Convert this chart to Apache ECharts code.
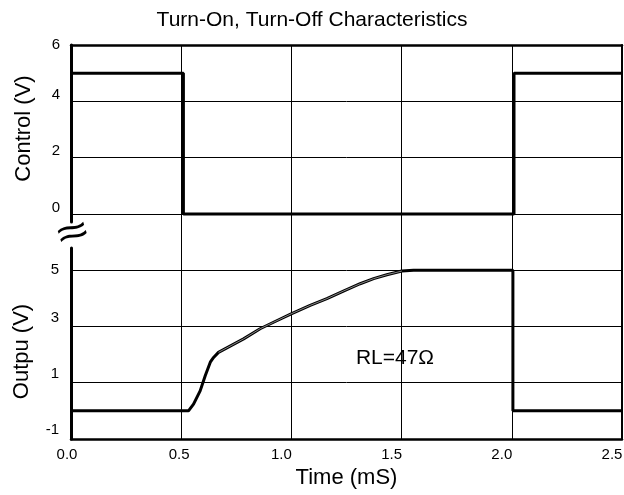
<!DOCTYPE html>
<html><head><meta charset="utf-8">
<script src="https://cdn.jsdelivr.net/npm/echarts@6/dist/echarts.min.js"></script>
<style>html,body{margin:0;padding:0;background:#fff}#c{width:624px;height:495px}</style>
</head><body><div id="c"></div>
<script>
// ---- data ----
const xTickLabels = ['0.0', '0.5', '1.0', '1.5', '2.0', '2.5'];
const controlTicks = [0, 2, 4, 6];
const outputTicks = [-1, 1, 3, 5];

const controlTime = [0, 0.51, 0.51, 2.01, 2.01, 2.5];
const controlVolt = [5, 5, 0, 0, 5, 5];

const outputTime = [0, 0.533, 0.556, 0.586, 0.609, 0.632, 0.647, 0.669, 0.707, 0.783, 0.858, 0.919, 0.999, 1.085, 1.161, 1.236, 1.312, 1.373, 1.433, 1.501, 1.554, 2.005, 2.005, 2.5];
const outputVolt = [0, 0, 0.24, 0.71, 1.25, 1.73, 1.9, 2.08, 2.24, 2.56, 2.92, 3.15, 3.45, 3.75, 3.99, 4.26, 4.52, 4.70, 4.84, 4.97, 5.0, 5.0, 0, 0];

const noisyTime = [0.669, 0.707, 0.783, 0.858, 0.919, 0.999, 1.085, 1.161, 1.236, 1.312, 1.373, 1.433, 1.501];
const noisyVolt = [2.08, 2.24, 2.56, 2.92, 3.15, 3.45, 3.75, 3.99, 4.26, 4.52, 4.70, 4.84, 4.97];

const annotation = { text: 'RL=47\u03A9', x: 1.47, y: 1.88 };

// ---- chart ----
const FONT = '"Liberation Sans", Arial, sans-serif';
const zip = (a, b) => a.map((v, i) => [v, b[i]]);
const gridMarks = (vals) => ({
  silent: true, symbol: ['none', 'none'], animation: false,
  label: { show: false },
  lineStyle: { color: '#000', width: 1, type: 'solid' },
  emphasis: { disabled: true },
  data: vals.map(v => ({ yAxis: v }))
});
const labelFmt = (topVal) => (v) => (v === topVal ? '{n|' + v + '}' : '{u|' + v + '}');
const labelRich = (pad) => ({
  n: { fontSize: 15, fontFamily: FONT, color: '#000' },
  u: { fontSize: 15, fontFamily: FONT, color: '#000', padding: [0, 0, pad, 0] }
});
const xLabelStyle = { fontSize: 15, fontFamily: FONT, color: '#000' };

const chart = echarts.init(document.getElementById('c'));
chart.setOption({
  animation: false,
  backgroundColor: '#fff',
  title: {
    text: 'Turn-On, Turn-Off Characteristics', left: 'center', top: 5,
    textStyle: { fontFamily: FONT, fontSize: 21, fontWeight: 'normal', color: '#000' }
  },
  grid: [
    { left: 71, right: 2, top: 45, bottom: 56, outerBoundsMode: 'none', containLabel: false },
    { left: 71, right: 2, top: 45, height: 177, outerBoundsMode: 'none', containLabel: false },
    { left: 71, right: 2, top: 248, bottom: 56, outerBoundsMode: 'none', containLabel: false }
  ],
  xAxis: [
    {
      gridIndex: 0, type: 'value', min: 0, max: 2.5, interval: 0.5, position: 'bottom',
      axisLine: { show: true, onZero: false, lineStyle: { color: '#000', width: 2.5 } },
      axisTick: { show: false },
      axisLabel: {
        formatter: (v) => {
          const i = Math.round(v / 0.5);
          const key = i === 0 ? 'a' : (i === 1 ? 'b' : 'c');
          return '{' + key + '|' + xTickLabels[i] + '}';
        },
        rich: {
          a: Object.assign({ padding: [0, 8, 0, 0] }, xLabelStyle),
          b: Object.assign({ padding: [0, 4, 0, 0] }, xLabelStyle),
          c: Object.assign({ padding: [0, 20, 0, 0] }, xLabelStyle)
        },
        fontSize: 15, fontFamily: FONT, color: '#000',
        margin: 8
      },
      splitLine: { show: true, showMinLine: false, lineStyle: { color: '#000', width: 1 } },
      name: 'Time (mS)', nameLocation: 'middle', nameGap: 27,
      nameTextStyle: { fontFamily: FONT, fontSize: 22, color: '#000' }
    },
    {
      gridIndex: 0, type: 'value', min: 0, max: 2.5, position: 'top',
      axisLine: { show: true, onZero: false, lineStyle: { color: '#000', width: 2.5 } },
      axisTick: { show: false }, axisLabel: { show: false }, splitLine: { show: false }
    },
    { gridIndex: 1, type: 'value', min: 0, max: 2.5, show: false },
    { gridIndex: 2, type: 'value', min: 0, max: 2.5, show: false }
  ],
  yAxis: [
    {
      gridIndex: 0, type: 'value', min: 0, max: 1, position: 'right',
      axisLine: { show: true, onZero: false, lineStyle: { color: '#000', width: 2 } },
      axisTick: { show: false }, axisLabel: { show: false }, splitLine: { show: false }
    },
    {
      gridIndex: 1, type: 'value', min: -0.28, max: 6, position: 'left',
      axisLine: { show: true, onZero: false, lineStyle: { color: '#000', width: 3 } },
      axisTick: { show: false },
      axisLabel: { customValues: controlTicks, formatter: labelFmt(6), rich: labelRich(13), fontSize: 15, fontFamily: FONT, margin: 11, color: '#000' },
      splitLine: { show: false },
      name: 'Control (V)', nameLocation: 'middle', nameGap: 36,
      nameTextStyle: { fontFamily: FONT, fontSize: 22, color: '#000', padding: [0, 0, 0, 10] }
    },
    {
      gridIndex: 2, type: 'value', min: -1, max: 5.79, position: 'left',
      axisLine: { show: true, onZero: false, lineStyle: { color: '#000', width: 3 } },
      axisTick: { show: false },
      axisLabel: { customValues: outputTicks, formatter: labelFmt(5), rich: labelRich(18), fontSize: 15, fontFamily: FONT, margin: 12, color: '#000' },
      splitLine: { show: false },
      name: 'Outpu (V)', nameLocation: 'middle', nameGap: 38,
      nameTextStyle: { fontFamily: FONT, fontSize: 22, color: '#000', padding: [0, 16, 0, 0] }
    }
  ],
  series: [
    {
      type: 'line', xAxisIndex: 2, yAxisIndex: 1, data: zip(controlTime, controlVolt),
      showSymbol: false, symbol: 'none', lineStyle: { color: '#000', width: 3 }, z: 5,
      markLine: gridMarks([0, 2, 4])
    },
    {
      type: 'line', xAxisIndex: 3, yAxisIndex: 2, data: zip(outputTime, outputVolt),
      showSymbol: false, symbol: 'none', lineStyle: { color: '#000', width: 3 }, z: 5,
      markLine: gridMarks([1, 3, 5]),
      markPoint: {
        silent: true, symbol: 'circle', symbolSize: 1, itemStyle: { color: 'rgba(0,0,0,0)' },
        label: { show: true, position: 'inside', formatter: annotation.text, fontFamily: FONT, fontSize: 21, color: '#000' },
        data: [{ coord: [annotation.x, annotation.y] }]
      }
    },
    {
      type: 'line', xAxisIndex: 3, yAxisIndex: 2, data: zip(noisyTime, noisyVolt),
      showSymbol: false, symbol: 'none', lineStyle: { color: '#aaa', width: 0.8 }, z: 6, silent: true
    }
  ],
  graphic: [
    {
      type: 'text', x: 73, y: 234, rotation: 0.3, scaleX: 1.3, z: 10,
      style: { text: '\u2248', x: 0, y: 0, align: 'center', verticalAlign: 'middle', fontSize: 42, fontFamily: FONT, fill: '#000' }
    }
  ]
});
</script>
</body></html>
